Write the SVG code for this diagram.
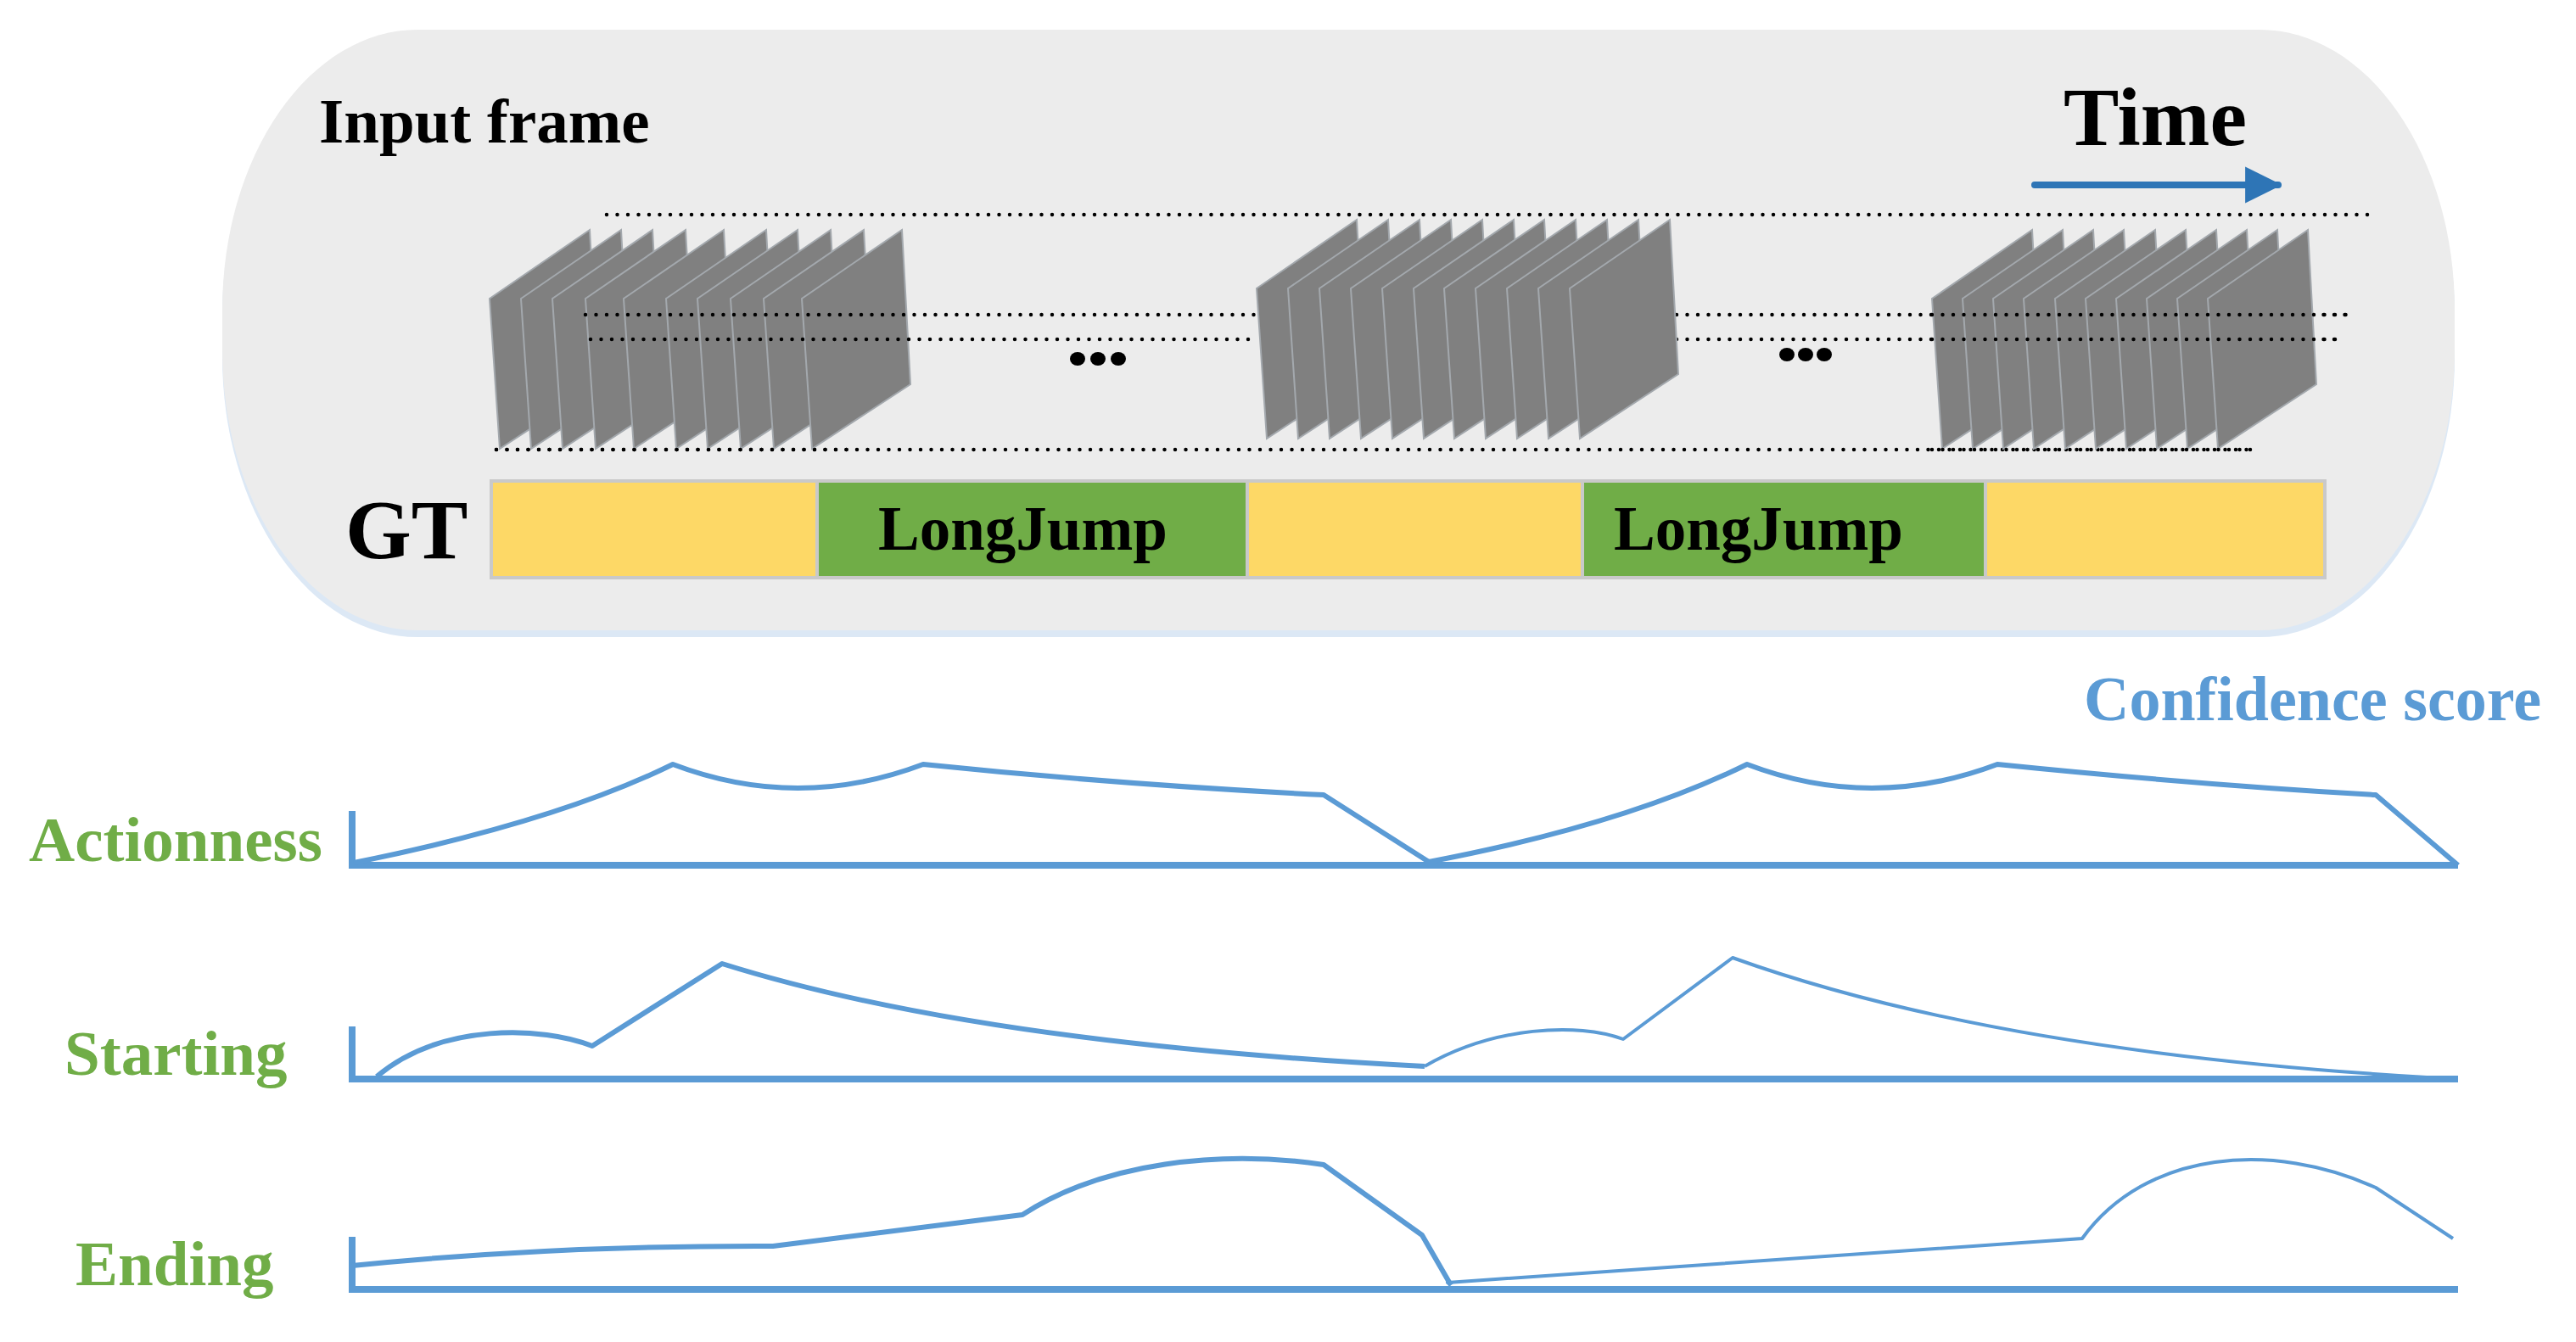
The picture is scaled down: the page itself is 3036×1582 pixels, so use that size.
<svg xmlns="http://www.w3.org/2000/svg" width="3036" height="1582" viewBox="0 0 3036 1582">
<style>
.t{font-family:"Liberation Serif","Times New Roman",serif;font-weight:bold}
.blk{fill:#000}
.grn{fill:#70AD47}
.blu{fill:#5B9BD5}
.dot{stroke:#000;stroke-width:4.5;stroke-linecap:round;stroke-dasharray:0 12.5;fill:none}
.fr{fill:#808080;stroke:#A3A8AD;stroke-width:2}
.crv{fill:none;stroke:#5B9BD5;stroke-linejoin:round}
.ax{fill:none;stroke:#5B9BD5;stroke-width:8}
</style>
<defs>
<polygon id="frame" class="fr" points="0,0 118,-81 128,101 12,177"/>
<marker id="ah" viewBox="0 0 10 10" refX="9" refY="5" markerWidth="5.4" markerHeight="5.4" markerUnits="strokeWidth" orient="auto"><path d="M0,0 L10,5 L0,10 Z" fill="#2E75B6"/></marker>
</defs>
<rect width="3036" height="1582" fill="#fff"/>
<g id="panel">
<rect x="262" y="41" width="2631" height="710" rx="230" ry="330" fill="#DCE8F5"/>
<rect x="262" y="35" width="2631" height="708" rx="230" ry="330" fill="#ECECEC"/>
<text class="t blk" x="376" y="168" font-size="75">Input frame</text>
<text class="t blk" x="2432" y="171" font-size="98">Time</text>
<line x1="2398" y1="218" x2="2685" y2="218" stroke="#2E75B6" stroke-width="8" stroke-linecap="round" marker-end="url(#ah)"/>
</g>
<g id="dotted-lines">
<line class="dot" x1="715" y1="253" x2="2791" y2="253"/>
<line class="dot" x1="585" y1="530" x2="2660" y2="530"/>
</g>
<g id="stack1">
<use href="#frame" x="577" y="352"/><use href="#frame" x="614" y="352"/><use href="#frame" x="651" y="352"/><use href="#frame" x="690" y="352"/><use href="#frame" x="735" y="352"/><use href="#frame" x="785" y="352"/><use href="#frame" x="822" y="352"/><use href="#frame" x="861" y="352"/><use href="#frame" x="900" y="352"/><use href="#frame" x="945" y="352"/>
</g>
<g id="mid-dotted-lines">
<line class="dot" x1="690" y1="371" x2="1481" y2="371"/>
<line class="dot" x1="696" y1="400" x2="1481" y2="400"/>
<line class="dot" x1="1976" y1="371" x2="2766" y2="371"/>
<line class="dot" x1="1976" y1="400" x2="2760" y2="400"/>
</g>
<g id="stack2">
<use href="#frame" x="1481" y="340"/><use href="#frame" x="1518" y="340"/><use href="#frame" x="1555" y="340"/><use href="#frame" x="1592" y="340"/><use href="#frame" x="1629" y="340"/><use href="#frame" x="1666" y="340"/><use href="#frame" x="1702" y="340"/><use href="#frame" x="1739" y="340"/><use href="#frame" x="1776" y="340"/><use href="#frame" x="1813" y="340"/><use href="#frame" x="1850" y="340"/>
</g>
<g id="stack3">
<use href="#frame" x="2277" y="352"/><use href="#frame" x="2313" y="352"/><use href="#frame" x="2349" y="352"/><use href="#frame" x="2385" y="352"/><use href="#frame" x="2422" y="352"/><use href="#frame" x="2458" y="352"/><use href="#frame" x="2494" y="352"/><use href="#frame" x="2530" y="352"/><use href="#frame" x="2566" y="352"/><use href="#frame" x="2602" y="352"/>
</g>
<g id="stack3-lines">
<line class="dot" x1="2277" y1="371" x2="2766" y2="371"/>
<line class="dot" x1="2277" y1="400" x2="2760" y2="400"/>
<line class="dot" x1="585" y1="530" x2="1000" y2="530"/>
<line class="dot" x1="2277" y1="530" x2="2660" y2="530"/>
</g>
<g id="ellipses">
<ellipse cx="1270" cy="423" rx="9" ry="8"/><ellipse cx="1294" cy="423" rx="9" ry="8"/><ellipse cx="1318" cy="423" rx="9" ry="8"/>
<ellipse cx="2106" cy="418" rx="9" ry="8"/><ellipse cx="2128" cy="418" rx="9" ry="8"/><ellipse cx="2150" cy="418" rx="9" ry="8"/>
</g>
<g id="gt">
<text class="t blk" x="407" y="658" font-size="100">GT</text>
<rect x="577" y="565" width="2165" height="118" fill="#C9C9C9"/>
<rect x="581" y="569" width="380" height="110" fill="#FDD866"/>
<rect x="965" y="569" width="503" height="110" fill="#70AD47"/>
<rect x="1472" y="569" width="391" height="110" fill="#FDD866"/>
<rect x="1867" y="569" width="471" height="110" fill="#70AD47"/>
<rect x="2342" y="569" width="396" height="110" fill="#FDD866"/>
<text class="t blk" x="1035" y="648" font-size="73">LongJump</text>
<text class="t blk" x="1902" y="648" font-size="73">LongJump</text>
</g>
<g id="scores">
<text class="t blu" x="2456" y="849" font-size="74">Confidence score</text>
</g>
<g id="actionness">
<text class="t grn" x="34" y="1015" font-size="75">Actionness</text>
<path class="ax" d="M415,956 V1020 H2897"/>
<path class="crv" stroke-width="6" d="M417,1017 Q655,969 793,901 Q940,957 1088,901 Q1320,925 1560,937 L1684,1016 Q1915,972 2059,901 Q2206,957 2354,901 Q2590,925 2800,937 L2897,1020"/>
</g>
<g id="starting">
<text class="t grn" x="76" y="1267" font-size="75">Starting</text>
<path class="ax" d="M415,1210 V1272 H2897"/>
<path class="crv" stroke-width="6" d="M444,1269 C520,1205 640,1210 698,1233 L851,1136 Q1150,1230 1679,1257"/>
<path class="crv" stroke-width="4" d="M1679,1257 C1760,1210 1860,1205 1913,1225 L2042,1129 Q2350,1240 2860,1270"/>
</g>
<g id="ending">
<text class="t grn" x="89" y="1515" font-size="75">Ending</text>
<path class="ax" d="M415,1458 V1520 H2897"/>
<path class="crv" stroke-width="6" d="M415,1492 Q650,1468 911,1469 L1205,1432 C1300,1370 1440,1355 1560,1373 L1676,1456 L1710,1515"/>
<path class="crv" stroke-width="4" d="M1710,1515 L1706,1512 L2454,1460 C2530,1355 2680,1345 2800,1400 L2891,1460"/>
</g>
</svg>
